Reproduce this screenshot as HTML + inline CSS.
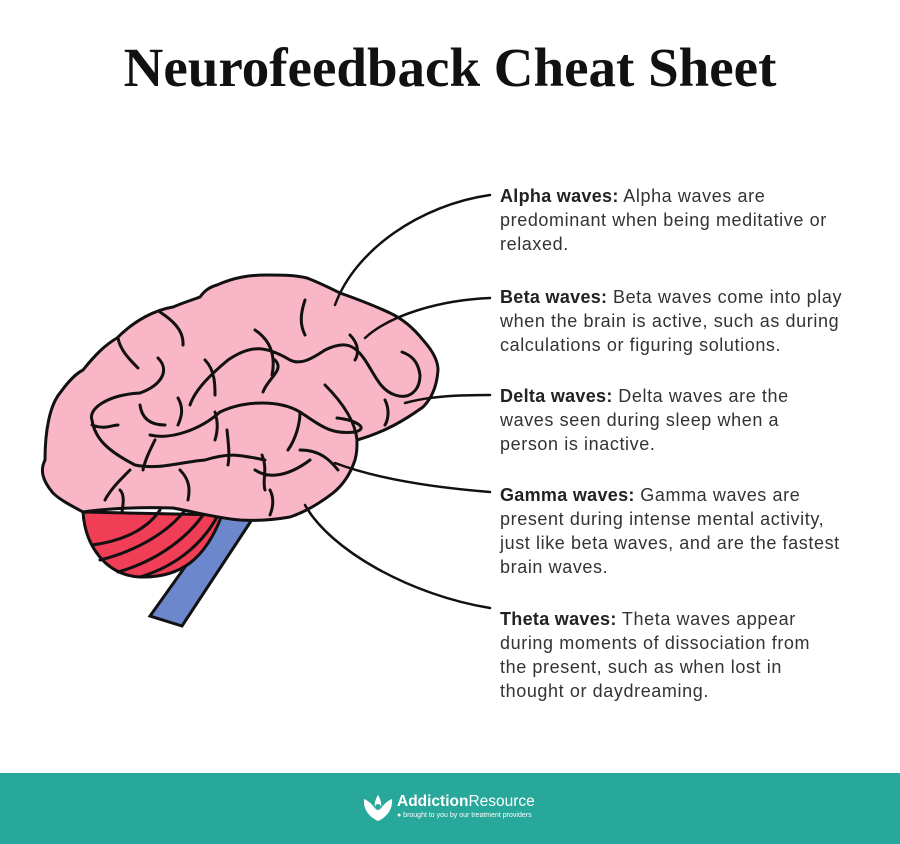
<!DOCTYPE html>
<html><head><meta charset="utf-8"><style>
body{margin:0;width:900px;height:844px;background:#fff;position:relative;overflow:hidden;font-family:"Liberation Sans",sans-serif}
h1{position:absolute;top:36px;left:0;width:900px;text-align:center;margin:0;font-family:"Liberation Serif",serif;font-weight:bold;font-size:55px;color:#111}
.t{position:absolute;left:500px;white-space:nowrap;font-size:18px;letter-spacing:0.6px;line-height:24px;color:#333}
.t b{color:#222;letter-spacing:0.3px}
.foot{position:absolute;left:0;top:773px;width:900px;height:71px;background:#27a89a}
</style></head><body>
<h1>Neurofeedback Cheat Sheet</h1>
<svg width="900" height="844" style="position:absolute;left:0;top:0" fill="none" stroke="#111" stroke-width="3" stroke-linecap="round">
<path d="M222,515 L253,518 L182,626 L150,616 Z" fill="#6c87cb"/>
<path d="M83,512 C85,545 105,575 140,577 C180,578 205,560 222,515 Z" fill="#ef3e55"/>
<path d="M92,545 C130,540 150,525 160,510 M100,560 C140,550 170,530 185,510 M118,572 C160,560 190,535 205,512 M140,577 C180,565 205,540 218,515"/>
<path d="M53,493 C42,480 40,470 45,460 C45,430 50,405 60,393 C68,382 75,374 83,370 C95,355 105,345 117,338 C135,320 155,310 173,307 C185,302 192,300 200,297 C205,290 210,287 217,285 C235,277 250,275 267,275 C282,275 295,275 307,278 C320,283 330,288 340,293 C360,300 375,306 390,313 C405,320 415,330 423,340 C432,350 438,360 438,370 C437,385 432,398 423,407 C405,420 385,432 357,440 C357,447 357,453 355,460 C350,475 343,485 333,493 C320,503 305,512 290,517 C273,520 257,521 240,520 C217,518 195,512 173,508 C145,507 110,508 83,512 C72,506 60,500 53,493 Z" fill="#f9b6c6"/>
<path d="M118,338 C120,350 130,360 138,368 M160,312 C172,320 184,330 183,345 M158,358 C170,370 162,385 140,393 C105,395 88,410 92,420 C95,440 110,452 135,465 C160,470 180,462 205,460 C230,452 240,455 265,460 M92,425 C105,430 112,425 118,425 M140,405 C142,420 152,425 165,425 M178,398 C185,410 180,420 178,425 M150,435 C170,440 200,430 220,412 C245,400 280,400 300,412 C320,425 330,435 355,432 C370,428 355,420 337,418 M215,412 C218,422 218,430 215,440 M275,360 C285,370 268,378 263,392 M262,455 C268,470 262,480 265,490 M300,412 C300,425 295,440 288,450 M300,450 C320,450 330,460 338,470 M255,470 C270,480 290,475 310,460 M130,470 C120,480 110,490 105,500 M155,440 C150,450 145,460 143,470 M180,470 C190,480 190,490 188,500 M227,430 C228,440 230,455 228,465 M120,490 C125,495 123,505 122,512 M270,490 C275,500 272,510 270,515 M190,405 C195,390 210,375 228,360 C250,345 265,345 290,360 C300,365 310,360 325,350 C345,340 355,345 365,360 C375,375 380,390 395,395 C410,400 420,390 420,375 C418,360 410,355 402,352 M255,330 C270,340 276,355 272,375 M205,360 C215,370 215,385 215,395 M305,300 C300,315 300,325 305,335 M350,335 C360,345 358,355 355,360 M357,440 C355,420 340,400 325,385 M385,400 C390,410 388,420 385,425"/>
<path d="M335,305 C355,250 420,205 490,195 M365,338 C390,315 440,300 490,298 M405,403 C430,396 460,395 490,395 M335,463 C380,480 440,488 490,492 M305,505 C330,550 410,595 490,608" stroke-width="2.5"/>
</svg>
<div class="t" style="top:184px"><b>Alpha waves:</b> Alpha waves are<br>predominant when being meditative or<br>relaxed.</div>
<div class="t" style="top:285px"><b>Beta waves:</b> Beta waves come into play<br>when the brain is active, such as during<br>calculations or figuring solutions.</div>
<div class="t" style="top:384px"><b>Delta waves:</b> Delta waves are the<br>waves seen during sleep when a<br>person is inactive.</div>
<div class="t" style="top:483px"><b>Gamma waves:</b> Gamma waves are<br>present during intense mental activity,<br>just like beta waves, and are the fastest<br>brain waves.</div>
<div class="t" style="top:607px"><b>Theta waves:</b> Theta waves appear<br>during moments of dissociation from<br>the present, such as when lost in<br>thought or daydreaming.</div>
<div class="foot">
<svg width="34" height="30" style="position:absolute;left:361px;top:20px"><path d="M17,28 C8,24 2,16 3,6 C8,8 12,12 14,16 C13,10 15,5 17,2 C19,5 21,10 20,16 C22,12 26,8 31,6 C32,16 26,24 17,28Z" fill="#fff"/><circle cx="17" cy="14" r="3" fill="#27a89a"/></svg>
<div style="position:absolute;left:397px;top:20px;color:#fff;font-size:15.5px"><b style="font-weight:600">Addiction</b>Resource</div>
<div style="position:absolute;left:397px;top:39px;color:#fff;font-size:7px">● brought to you by our treatment providers</div>
</div>
</body></html>
